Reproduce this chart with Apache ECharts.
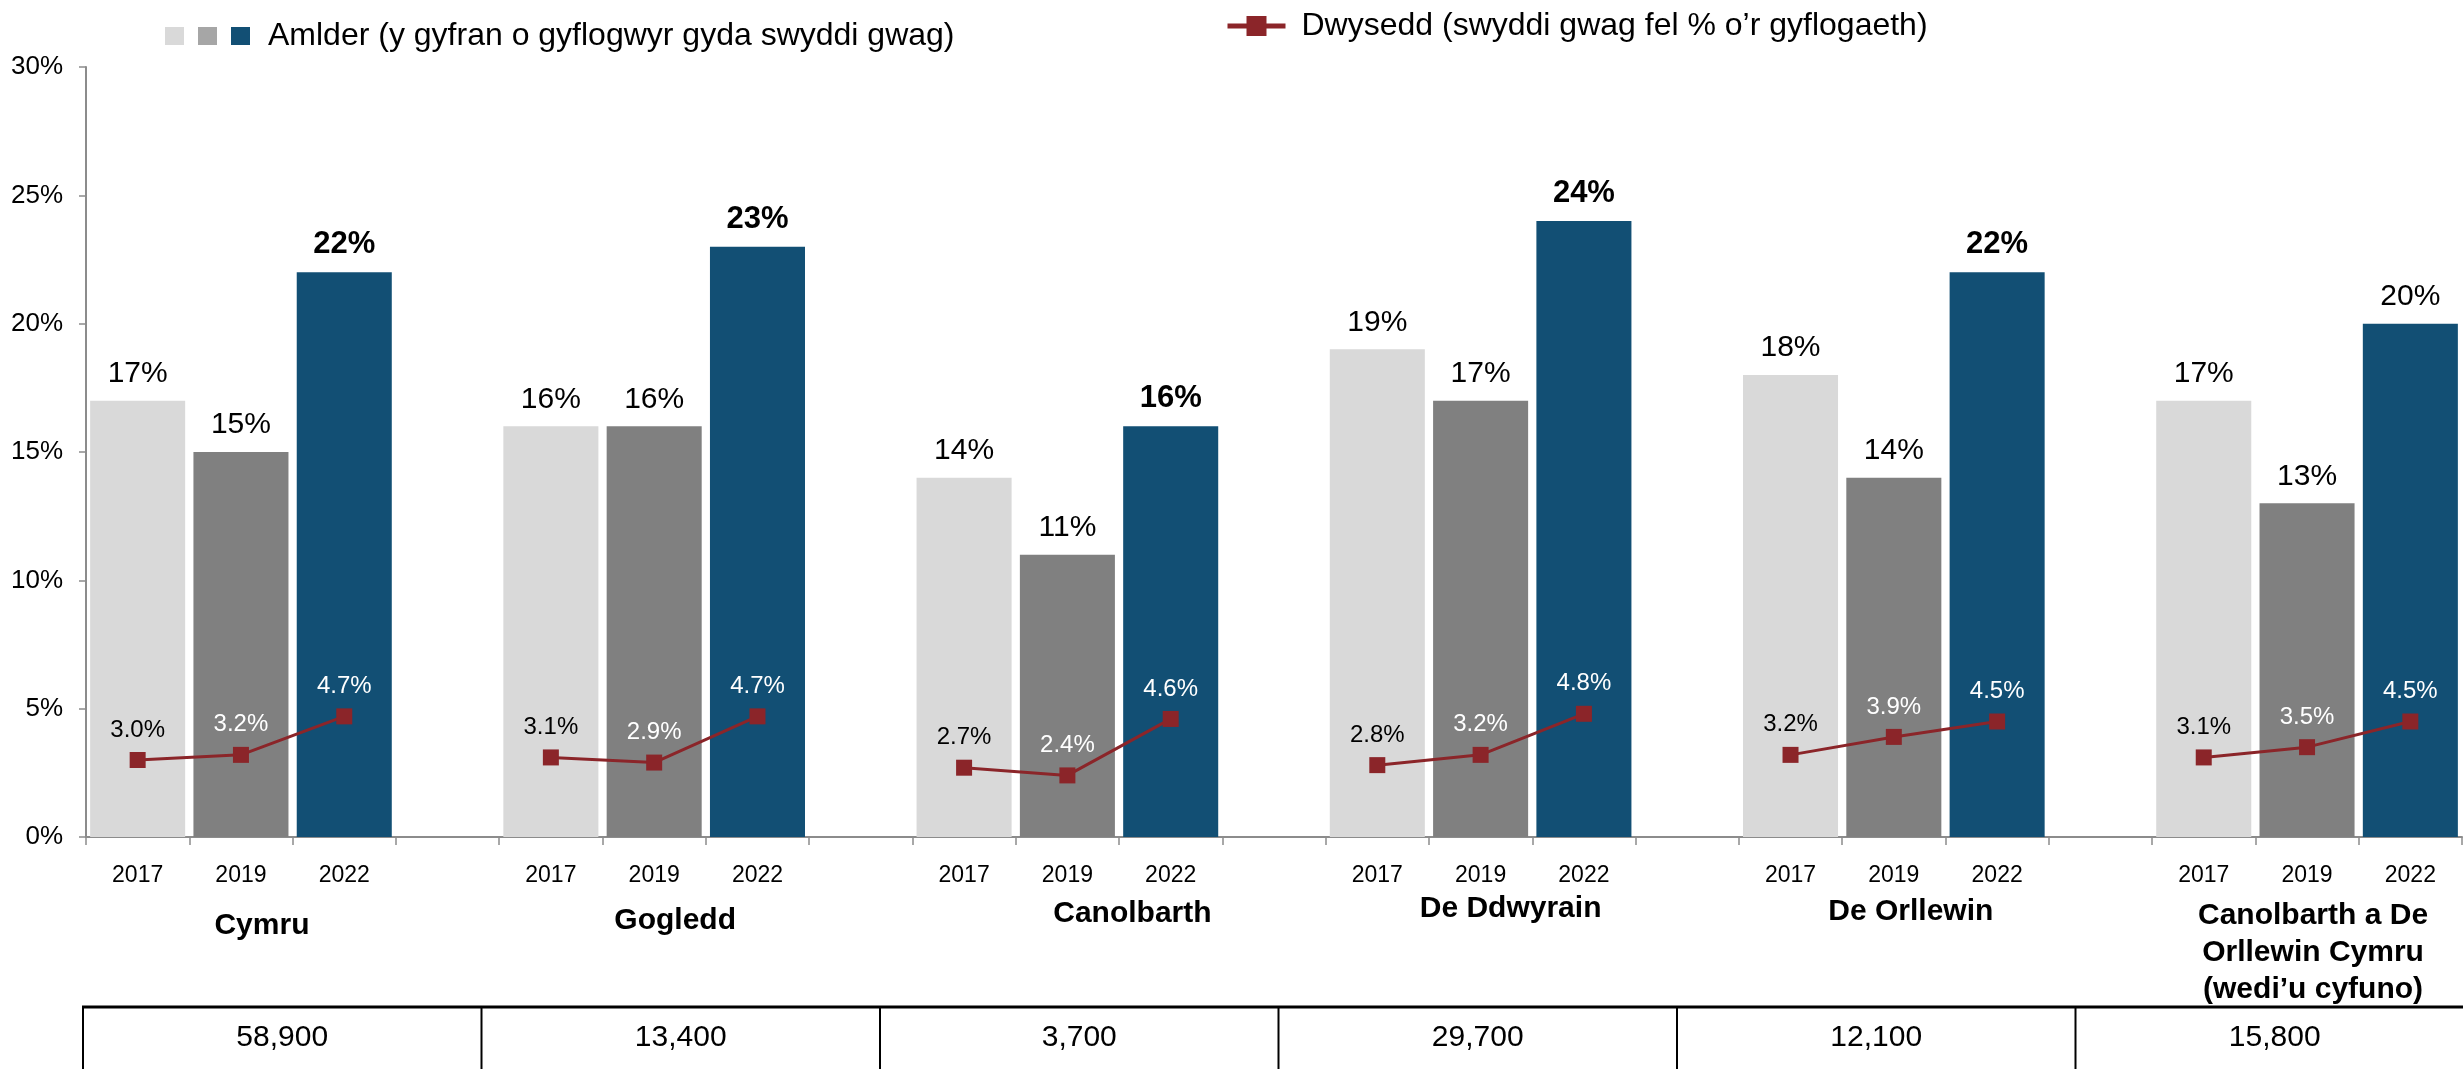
<!DOCTYPE html>
<html><head><meta charset="utf-8">
<script src="https://cdn.jsdelivr.net/npm/echarts@6/dist/echarts.min.js"></script>
<style>html,body{margin:0;padding:0;background:#fff}#c{width:2463px;height:1069px}</style>
</head><body><div id="c"></div>
<script>
// ---- data ----
const regions = ['Cymru', 'Gogledd', 'Canolbarth', 'De Ddwyrain', 'De Orllewin', 'Canolbarth a De\nOrllewin Cymru\n(wedi\u2019u cyfuno)'];
const years = ['2017', '2019', '2022'];
const prevalence2017 = [17, 16, 14, 19, 18, 17];
const prevalence2019 = [15, 16, 11, 17, 14, 13];
const prevalence2022 = [22, 23, 16, 24, 22, 20];
const density2017 = [3.0, 3.1, 2.7, 2.8, 3.2, 3.1];
const density2019 = [3.2, 2.9, 2.4, 3.2, 3.9, 3.5];
const density2022 = [4.7, 4.7, 4.6, 4.8, 4.5, 4.5];
const vacancies = ['58,900', '13,400', '3,700', '29,700', '12,100', '15,800'];
const yMin = 0, yMax = 30, yStep = 5;
const legendBar = 'Amlder (y gyfran o gyflogwyr gyda swyddi gwag)';
const legendLine = 'Dwysedd (swyddi gwag fel % o\u2019r gyflogaeth)';

// ---- style / layout ----
const FONT = '"Liberation Sans", Arial, sans-serif';
const barColors = ['#D9D9D9', '#808080', '#124F74'];
const legendColors = ['#D9D9D9', '#A6A6A6', '#124F74'];
const lineColor = '#8B2529';
const bold2022 = [true, true, true, true, true, false];
const lineLabelColors = ['#000', '#fff', '#fff'];
const nameDx = [21, 21, 65, 30, 17, 6];
const nameY = [926, 921, 914, 909, 912, 915];
const tableTop = 1007, tableLeft = 83, tableColW = 398.5, tableTextY = 1038;

// ---- build categories (3 years + gap per region) ----
const categories = [];
const slotOf = (g, y) => g * 4 + y;
regions.forEach((r, g) => {
  years.forEach(y => categories.push(y));
  if (g < regions.length - 1) categories.push('');
});
const N = categories.length;

const prevalence = [prevalence2017, prevalence2019, prevalence2022];
const density = [density2017, density2019, density2022];

const barSeries = years.map((yr, yi) => {
  const data = new Array(N).fill(null);
  prevalence[yi].forEach((v, g) => {
    const item = { value: v };
    if (yi === 2 && bold2022[g]) item.label = { fontWeight: 'bold', fontSize: 31 };
    data[slotOf(g, yi)] = item;
  });
  return {
    name: 's' + yr, type: 'bar', data, barWidth: '92%', barGap: '-100%',
    itemStyle: { color: barColors[yi] },
    label: { show: true, position: 'top', distance: 12, fontSize: 30, color: '#000', fontFamily: FONT,
      formatter: p => p.value + '%' },
    z: 2
  };
});

const lineData = new Array(N).fill(null);
regions.forEach((r, g) => {
  years.forEach((y, yi) => {
    lineData[slotOf(g, yi)] = { value: density[yi][g], label: { color: lineLabelColors[yi] } };
  });
});

const lineSeries = {
  name: 'density', type: 'line', data: lineData, connectNulls: false,
  symbol: 'rect', symbolSize: 16, z: 5,
  lineStyle: { color: lineColor, width: 3 },
  itemStyle: { color: lineColor },
  label: { show: true, position: 'top', distance: 10, fontSize: 24, fontFamily: FONT,
    formatter: p => p.value.toFixed(1) + '%' }
};

const chart = echarts.init(document.getElementById('c'), null, { renderer: 'canvas' });
chart.setOption({
  animation: false,
  textStyle: { fontFamily: FONT },
  grid: { left: 86, right: 1, top: 67, bottom: 232, containLabel: false },
  legend: [
    {
      left: 165, top: 20, padding: 0, itemWidth: 19, itemHeight: 18, itemGap: 14,
      icon: 'rect', selectedMode: false,
      data: years.map((y, i) => ({ name: 's' + y, itemStyle: { color: legendColors[i] } })),
      formatter: name => name === 's2022' ? '{t|' + legendBar + '}' : '',
      textStyle: { fontSize: 32, color: '#000', fontFamily: FONT,
        rich: { t: { fontSize: 32, color: '#000', fontFamily: FONT, padding: [0, 0, 0, 13] } } }
    },
    {
      left: 1225, top: 10, padding: 0, itemWidth: 58, itemHeight: 25, selectedMode: false,
      data: [{ name: 'density' }],
      lineStyle: { width: 5 },
      formatter: () => '{t|' + legendLine + '}',
      textStyle: { fontSize: 32, color: '#000', fontFamily: FONT,
        rich: { t: { fontSize: 32, color: '#000', fontFamily: FONT, padding: [0, 0, 0, 11] } } }
    }
  ],
  xAxis: {
    type: 'category', data: categories, boundaryGap: true,
    axisLine: { lineStyle: { color: '#8c8c8c', width: 2 } },
    axisTick: { show: true, interval: 0, length: 8, lineStyle: { color: '#8c8c8c', width: 1.5 } },
    axisLabel: { interval: 0, fontSize: 23, color: '#000', margin: 27, fontFamily: FONT }
  },
  yAxis: {
    type: 'value', min: yMin, max: yMax, interval: yStep,
    splitLine: { show: false },
    axisLine: { show: true, lineStyle: { color: '#8c8c8c', width: 2 } },
    axisTick: { show: true, length: 7, lineStyle: { color: '#8c8c8c', width: 1.5 } },
    axisLabel: { fontSize: 26, color: '#000', margin: 23, fontFamily: FONT, formatter: '{value}%' }
  },
  series: [...barSeries, lineSeries]
});

// region names and table, positioned from the axis scale
const graphics = [];
regions.forEach((r, g) => {
  const multi = r.indexOf('\n') >= 0;
  const x = chart.convertToPixel({ xAxisIndex: 0 }, slotOf(g, 1)) + nameDx[g];
  graphics.push({
    type: 'text', x: x, y: multi ? nameY[g] - 18 : nameY[g],
    style: { text: r, align: 'center', verticalAlign: multi ? 'top' : 'middle',
      font: 'bold 30px ' + FONT, fill: '#000', lineHeight: 37 },
    z: 10
  });
});

graphics.push({ type: 'line', shape: { x1: tableLeft - 1, y1: tableTop, x2: 2463, y2: tableTop },
  style: { stroke: '#000', lineWidth: 3 } });
vacancies.forEach((v, i) => {
  const x0 = tableLeft + i * tableColW;
  graphics.push({ type: 'line', shape: { x1: x0, y1: tableTop, x2: x0, y2: 1069 },
    style: { stroke: '#000', lineWidth: 2 } });
  graphics.push({ type: 'text', x: x0 + tableColW / 2, y: tableTextY,
    style: { text: v, align: 'center', verticalAlign: 'middle', font: '30px ' + FONT, fill: '#000' } });
});
chart.setOption({ graphic: graphics });
</script></body></html>
